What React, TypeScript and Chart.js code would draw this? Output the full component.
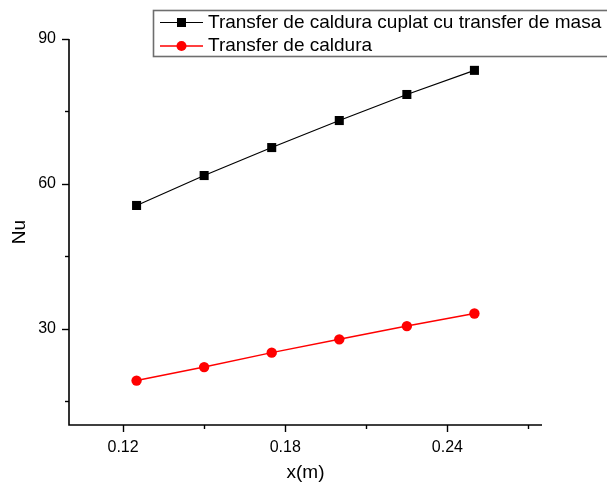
import React, { useEffect, useRef } from 'react';
import { Chart, registerables } from 'chart.js';

Chart.register(...registerables);

// Measured Nusselt numbers along the plate
const xPositions = [0.125, 0.15, 0.175, 0.2, 0.225, 0.25];
const coupledNu = [55.5, 61.7, 67.5, 73.1, 78.5, 83.5];
const heatOnlyNu = [19.2, 22.0, 25.0, 27.75, 30.5, 33.1];
const seriesNames = ['Transfer de caldura cuplat cu transfer de masa', 'Transfer de caldura'];

const xMajorTicks = [0.12, 0.18, 0.24];
const xMinorTicks = [0.15, 0.21, 0.27];
const yMajorTicks = [30, 60, 90];
const yMinorTicks = [15, 45, 75];

const FONT = '"Liberation Sans", Arial, sans-serif';

// Origin-style axes: left/bottom spines with long major and short minor ticks
const axesPlugin = {
  id: 'originAxes',
  afterDraw(chart: any) {
    const { ctx, chartArea, scales } = chart;
    const xs = scales.x;
    const ys = scales.y;
    ctx.save();
    ctx.strokeStyle = '#000';
    ctx.lineWidth = 1.6;
    ctx.beginPath();
    ctx.moveTo(chartArea.left, chartArea.top);
    ctx.lineTo(chartArea.left, chartArea.bottom);
    ctx.lineTo(chartArea.right, chartArea.bottom);
    ctx.stroke();
    ctx.lineWidth = 1.4;
    const xTick = (v: number, len: number) => {
      const px = Math.round(xs.getPixelForValue(v)) + 0.5;
      ctx.beginPath();
      ctx.moveTo(px, chartArea.bottom);
      ctx.lineTo(px, chartArea.bottom + len);
      ctx.stroke();
    };
    const yTick = (v: number, len: number) => {
      const py = Math.round(ys.getPixelForValue(v)) + 0.5;
      ctx.beginPath();
      ctx.moveTo(chartArea.left, py);
      ctx.lineTo(chartArea.left - len, py);
      ctx.stroke();
    };
    xMajorTicks.forEach((v) => xTick(v, 7));
    xMinorTicks.forEach((v) => xTick(v, 4));
    yMajorTicks.forEach((v) => yTick(v, 7));
    yMinorTicks.forEach((v) => yTick(v, 4));
    ctx.restore();
  },
};

// Framed legend box in the upper right corner
const legendPlugin = {
  id: 'boxLegend',
  afterDraw(chart: any) {
    const { ctx } = chart;
    ctx.save();
    ctx.strokeStyle = '#6e6e6e';
    ctx.lineWidth = 1.6;
    ctx.strokeRect(153.5, 10.5, 470, 46);
    const rows = [22.5, 46];
    chart.data.datasets.forEach((ds: any, i: number) => {
      const y = rows[i];
      ctx.strokeStyle = ds.borderColor;
      ctx.lineWidth = ds.borderWidth;
      ctx.beginPath();
      ctx.moveTo(160, y);
      ctx.lineTo(203, y);
      ctx.stroke();
      ctx.fillStyle = ds.pointBackgroundColor;
      if (ds.pointStyle === 'rect') {
        ctx.fillRect(177, y - 4.5, 9, 9);
      } else {
        ctx.beginPath();
        ctx.arc(181.5, y, 5, 0, Math.PI * 2);
        ctx.fill();
      }
      ctx.fillStyle = '#000';
      ctx.font = `19px ${FONT}`;
      ctx.textBaseline = 'middle';
      ctx.textAlign = 'left';
      ctx.fillText(ds.label, 208, y);
    });
    ctx.restore();
  },
};

export default function App() {
  const canvasRef = useRef<HTMLCanvasElement | null>(null);

  useEffect(() => {
    if (!canvasRef.current) return;
    const chart = new Chart(canvasRef.current, {
      type: 'line',
      data: {
        datasets: [
          {
            label: seriesNames[0],
            data: xPositions.map((x, i) => ({ x, y: coupledNu[i] })),
            borderColor: '#000000',
            borderWidth: 1.2,
            pointStyle: 'rect',
            pointRadius: 6.4,
            pointBackgroundColor: '#000000',
            pointBorderWidth: 0,
          },
          {
            label: seriesNames[1],
            data: xPositions.map((x, i) => ({ x, y: heatOnlyNu[i] })),
            borderColor: '#ff0000',
            borderWidth: 1.5,
            pointStyle: 'circle',
            pointRadius: 5.2,
            pointBackgroundColor: '#ff0000',
            pointBorderWidth: 0,
          },
        ],
      },
      options: {
        animation: false,
        responsive: false,
        layout: { padding: { top: 39, right: 65, left: 0, bottom: 0 } },
        plugins: { legend: { display: false }, tooltip: { enabled: false } },
        scales: {
          x: {
            type: 'linear',
            min: 0.1,
            max: 0.275,
            grid: { display: false, drawTicks: false },
            border: { display: false },
            afterBuildTicks: (scale: any) => {
              scale.ticks = xMajorTicks.map((value) => ({ value }));
            },
            afterFit: (scale: any) => {
              scale.height = 59;
            },
            ticks: {
              padding: 13,
              color: '#000',
              font: { family: FONT, size: 16 },
              callback: (v: any) => Number(v).toFixed(2),
            },
            title: {
              display: true,
              text: 'x(m)',
              color: '#000',
              font: { family: FONT, size: 19 },
              padding: { top: 0, bottom: 0 },
            },
          },
          y: {
            type: 'linear',
            min: 10,
            max: 90,
            grid: { display: false, drawTicks: false },
            border: { display: false },
            afterBuildTicks: (scale: any) => {
              scale.ticks = yMajorTicks.map((value) => ({ value }));
            },
            afterFit: (scale: any) => {
              scale.width = 69;
            },
            ticks: {
              padding: 13,
              color: '#000',
              font: { family: FONT, size: 16 },
              callback: (v: any) => String(v),
            },
            title: {
              display: true,
              text: 'Nu',
              color: '#000',
              font: { family: FONT, size: 19 },
              padding: { top: 8, bottom: 0 },
            },
          },
        },
      },
      plugins: [axesPlugin, legendPlugin],
    });
    return () => chart.destroy();
  }, []);

  return (
    <div style={{ position: 'fixed', left: 0, top: 0, width: 607, height: 484, background: '#fff' }}>
      <canvas ref={canvasRef} width={607} height={484} style={{ width: 607, height: 484, display: 'block' }} />
    </div>
  );
}
